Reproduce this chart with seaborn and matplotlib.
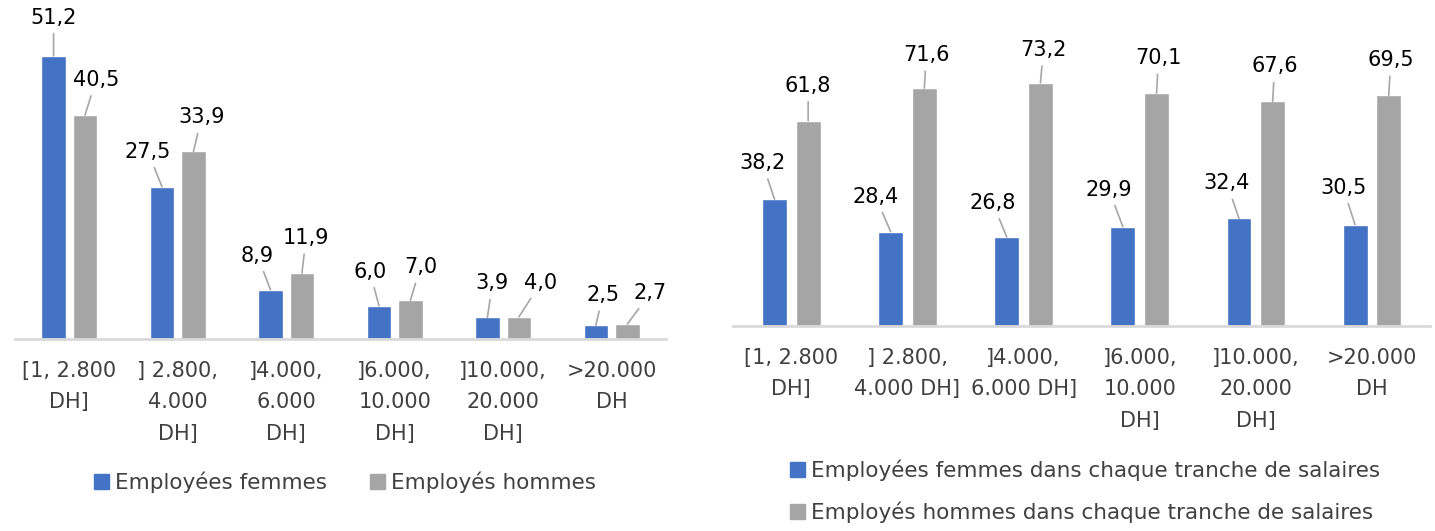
import pandas as pd
import matplotlib.pyplot as plt
import seaborn as sns

# Data
series = ["Employées femmes", "Employés hommes"]
tranches = ["t1", "t2", "t3", "t4", "t5", "t6"]

left_femmes = [51.2, 27.5, 8.9, 6.0, 3.9, 2.5]
left_hommes = [40.5, 33.9, 11.9, 7.0, 4.0, 2.7]
right_femmes = [38.2, 28.4, 26.8, 29.9, 32.4, 30.5]
right_hommes = [61.8, 71.6, 73.2, 70.1, 67.6, 69.5]

left_ticklabels = ["[1, 2.800\nDH]", "] 2.800,\n4.000\nDH]", "]4.000,\n6.000\nDH]",
                   "]6.000,\n10.000\nDH]", "]10.000,\n20.000\nDH]", ">20.000\nDH"]
right_ticklabels = ["[1, 2.800\nDH]", "] 2.800,\n4.000 DH]", "]4.000,\n6.000 DH]",
                    "]6.000,\n10.000\nDH]", "]10.000,\n20.000\nDH]", ">20.000\nDH"]
right_legend = ["Employées femmes dans chaque tranche de salaires",
                "Employés hommes dans chaque tranche de salaires"]

BLUE = "#4472C4"
GREY = "#A5A5A5"
TXT = "#404040"

# callout offsets (pixels) of the value labels: femmes row, then hommes row
left_offsets = [[(0, 38), (-14, 35), (-13, 34), (-9, 34), (5, 34), (7, 30)],
                [(11, 35), (8, 34), (4, 35), (10, 33), (22, 34), (23, 31)]]
right_offsets = [[(-12, 36), (-15, 35), (-14, 34), (-14, 37), (-12, 35), (-12, 37)],
                 [(0, 35), (2, 33), (3, 33), (2, 35), (2, 35), (2, 35)]]

sns.set_style("white")
plt.rcParams["font.family"] = ["DejaVu Sans"]
FS = 15


def make_df(femmes, hommes):
    return pd.DataFrame({
        "tranche": tranches * 2,
        "serie": [series[0]] * 6 + [series[1]] * 6,
        "valeur": femmes + hommes,
    })


def draw(ax, df, ticklabels, offsets, ymax, gap):
    sns.barplot(data=df, x="tranche", y="valeur", hue="serie", order=tranches,
                hue_order=series, palette=[BLUE, GREY], width=0.58, gap=gap,
                saturation=1, legend=False, ax=ax)
    ax.set_ylim(0, ymax)
    ax.set_xlim(-0.5, 5.5)
    ax.set_xlabel("")
    ax.set_ylabel("")
    ax.set_yticks([])
    ax.set_xticks(range(6))
    ax.set_xticklabels(ticklabels, fontsize=FS, linespacing=1.7, color=TXT)
    ax.tick_params(axis="x", length=0, pad=16)
    for s in ["top", "left", "right"]:
        ax.spines[s].set_visible(False)
    ax.spines["bottom"].set_color("#D9D9D9")
    ax.spines["bottom"].set_linewidth(2)
    for cont, offs in zip(ax.containers, offsets):
        for bar, off in zip(cont, offs):
            x = bar.get_x() + bar.get_width() / 2
            h = bar.get_height()
            ax.annotate(f"{h:.1f}".replace(".", ","), xy=(x, h), xytext=off,
                        textcoords="offset pixels", ha="center", va="center",
                        fontsize=FS, color="#000000",
                        arrowprops=dict(arrowstyle="-", color="#A6A6A6", lw=1.2,
                                        shrinkA=2, shrinkB=0))


fig = plt.figure(figsize=(14.35, 5.31), dpi=100)
ax1 = fig.add_axes([0.0105, 0.3616, 0.4535, 0.625])
ax2 = fig.add_axes([0.511, 0.386, 0.4855, 0.563])

draw(ax1, make_df(left_femmes, left_hommes), left_ticklabels, left_offsets, 60, 0.22)
draw(ax2, make_df(right_femmes, right_hommes), right_ticklabels, right_offsets, 90, 0.26)

h1 = [plt.Rectangle((0, 0), 1, 1, color=BLUE), plt.Rectangle((0, 0), 1, 1, color=GREY)]
fig.legend(h1, series, loc="center", bbox_to_anchor=(0.2405, 0.092), ncol=2,
           frameon=False, fontsize=15.5, handlelength=0.7, handleheight=0.7,
           handletextpad=0.3, columnspacing=1.97, labelcolor=TXT)
fig.legend(h1, right_legend, loc="center", bbox_to_anchor=(0.756, 0.074), ncol=1,
           frameon=False, fontsize=15.5, handlelength=0.7, handleheight=0.7,
           handletextpad=0.3, labelspacing=0.95, labelcolor=TXT)

plt.savefig("out.png", dpi=100)
